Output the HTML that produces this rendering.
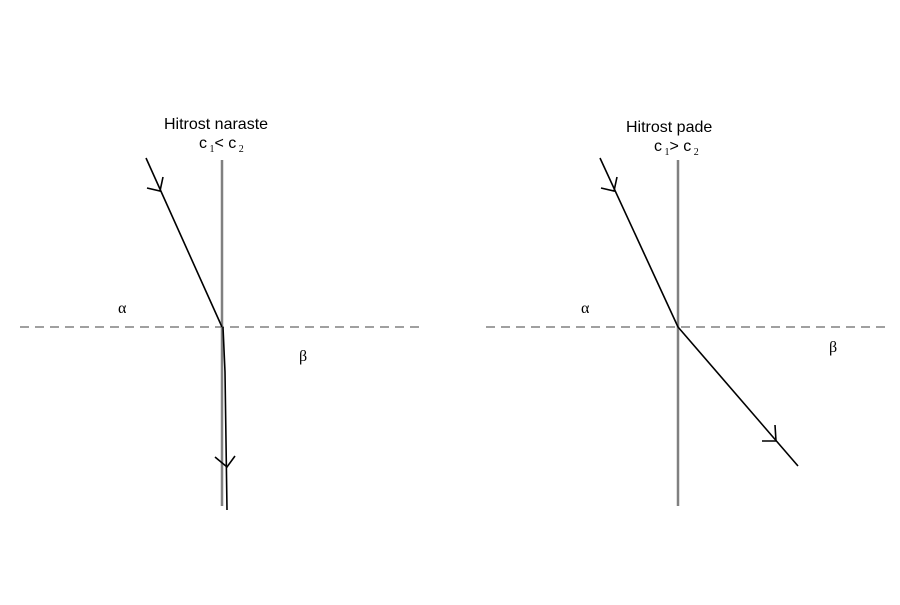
<!DOCTYPE html>
<html><head><style>body{margin:0;background:#fff}</style></head><body>
<svg width="900" height="600" xmlns="http://www.w3.org/2000/svg" font-family="Liberation Sans, sans-serif">
<rect width="900" height="600" fill="#fff"/>
<g stroke="#808080" stroke-width="2.5">
<line x1="222" y1="160" x2="222" y2="506"/>
<line x1="678" y1="160" x2="678" y2="506"/>
</g>
<g stroke="#808080" stroke-width="1.5" stroke-dasharray="9,6">
<line x1="20" y1="327" x2="420" y2="327"/>
<line x1="486" y1="327" x2="886" y2="327"/>
</g>
<g stroke="#000" stroke-width="1.6" fill="none">
<line x1="146" y1="158" x2="222" y2="327"/>
<polyline points="223,327 225,372 227,510"/>
<polyline points="147,188 160,191 163,177"/>
<polyline points="215,457 227,467 235,456"/>
<line x1="600" y1="158" x2="678" y2="327"/>
<line x1="678" y1="327" x2="798" y2="466"/>
<polyline points="601,188 614,191 617,177"/>
<polyline points="762,441 776,441 775,425"/>
</g>
<g font-size="16" fill="#000">
<text x="164" y="129">Hitrost naraste</text>
<text x="199" y="148">c<tspan font-family="Liberation Serif, serif" font-size="10" dy="4"> 1</tspan><tspan dy="-4">&lt; c</tspan><tspan font-family="Liberation Serif, serif" font-size="10" dy="4">  2</tspan></text>
<text x="626" y="132">Hitrost pade</text>
<text x="654" y="151">c<tspan font-family="Liberation Serif, serif" font-size="10" dy="4"> 1</tspan><tspan dy="-4">&gt; c</tspan><tspan font-family="Liberation Serif, serif" font-size="10" dy="4">  2</tspan></text>
</g>
<g font-family="Liberation Serif, serif" font-size="16">
<text x="118" y="313">α</text>
<text x="299" y="361">β</text>
<text x="581" y="313">α</text>
<text x="829" y="352">β</text>
</g>
</svg>
</body></html>
